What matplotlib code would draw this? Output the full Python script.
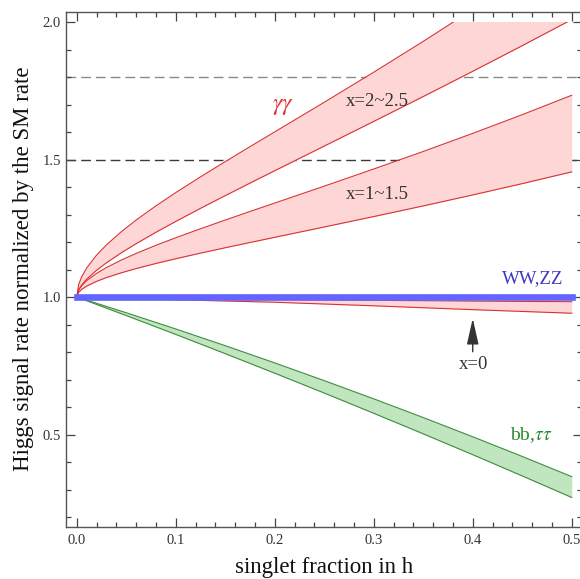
import numpy as np
import matplotlib.pyplot as plt
from matplotlib.patches import Rectangle
from matplotlib.ticker import MultipleLocator, FormatStrFormatter

plt.rcParams['font.family'] = ['Liberation Serif', 'DejaVu Serif']
plt.rcParams['mathtext.fontset'] = 'stix'

# ---- data ----
frac = [0, 0.002, 0.005, 0.01, 0.02, 0.03, 0.045, 0.06, 0.08, 0.1, 0.125, 0.15,
        0.175, 0.2, 0.25, 0.3, 0.35, 0.4, 0.45, 0.5]

# gamma gamma, x = 2 ~ 2.5
gg_x2_hi = [1.0, 1.0457, 1.0732, 1.1051, 1.1520, 1.1894, 1.2373, 1.2797, 1.3314, 1.3795,
            1.4368, 1.4922, 1.5466, 1.6004, 1.7081, 1.8174, 1.9295, 2.0453, 2.1651, 2.2896]
gg_x2_lo = [1.0, 1.0265, 1.0436, 1.0646, 1.0970, 1.1243, 1.1606, 1.1938, 1.2353, 1.2747,
            1.3223, 1.3686, 1.4141, 1.4592, 1.5488, 1.6385, 1.7289, 1.8207, 1.9139, 2.0089]
# gamma gamma, x = 1 ~ 1.5
gg_x1_hi = [1.0, 1.0257, 1.0412, 1.0592, 1.0857, 1.1070, 1.1342, 1.1584, 1.1879, 1.2154,
            1.2481, 1.2798, 1.3109, 1.3416, 1.4031, 1.4654, 1.5292, 1.5950, 1.6630, 1.7335]
gg_x1_lo = [1.0, 1.0173, 1.0276, 1.0395, 1.0568, 1.0706, 1.0880, 1.1034, 1.1219, 1.1391,
            1.1595, 1.1791, 1.1982, 1.2170, 1.2546, 1.2925, 1.3312, 1.3711, 1.4123, 1.4550]
# gamma gamma, x = 0
x0_frac = [0, 0.1, 0.2, 0.3, 0.4, 0.5]
gg_x0_hi = [1.0, 0.995, 0.991, 0.988, 0.985, 0.983]
gg_x0_lo = [1.0, 0.990, 0.981, 0.968, 0.954, 0.941]
# bb, tautau
bb_frac = [0, 0.05, 0.1, 0.15, 0.2, 0.25, 0.3, 0.35, 0.4, 0.45, 0.5]
bb_hi = [1.0, 0.9428, 0.8838, 0.8230, 0.7604, 0.6959, 0.6297, 0.5617, 0.4918, 0.4202, 0.3468]
bb_lo = [1.0, 0.9326, 0.8640, 0.7941, 0.7230, 0.6508, 0.5772, 0.5025, 0.4266, 0.3494, 0.2710]
# WW, ZZ
ww_frac = [0, 0.5]
ww_val = [1.0, 1.0]

ref_levels = [1.8, 1.5]
ref_colors = ['#8a8a8a', '#3a3a3a']

# ---- colours ----
RED = '#d83232'
PINK = '#ffd6d6'
GREEN = '#3c8c3c'
LGREEN = '#c0e6c0'
BLUE = '#6464ff'

fig = plt.figure(figsize=(5.8, 5.79), dpi=100)
ax = fig.add_axes([0.1133, 0.0903, 0.8902, 0.8895])
ax.set_xlim(-0.0111, 0.5104)
ax.set_ylim(0.1647, 2.0375)

# plot range clip (nothing drawn above 2.0)
clip = Rectangle((-1, -1), 3, 3.0, transform=ax.transData)

for y, c in zip(ref_levels, ref_colors):
    ax.axhline(y, color=c, lw=1.0, dashes=(7, 3.6), zorder=1)

arts = []
for lo, hi in [(gg_x2_lo, gg_x2_hi), (gg_x1_lo, gg_x1_hi)]:
    arts.append(ax.fill_between(frac, lo, hi, color=PINK, lw=0, zorder=2))
    arts += ax.plot(frac, hi, color=RED, lw=0.8, zorder=2.5)
    arts += ax.plot(frac, lo, color=RED, lw=0.8, zorder=2.5)
arts.append(ax.fill_between(x0_frac, gg_x0_lo, gg_x0_hi, color=PINK, lw=0, zorder=2))
arts += ax.plot(x0_frac, gg_x0_hi, color=RED, lw=0.8, zorder=2.5)
arts += ax.plot(x0_frac, gg_x0_lo, color=RED, lw=0.8, zorder=2.5)

arts.append(ax.fill_between(bb_frac, bb_lo, bb_hi, color=LGREEN, lw=0, zorder=2))
arts += ax.plot(bb_frac, bb_hi, color=GREEN, lw=0.8, zorder=2.5)
arts += ax.plot(bb_frac, bb_lo, color=GREEN, lw=0.8, zorder=2.5)
for a in arts:
    a.set_clip_path(clip)

ax.plot(ww_frac, ww_val, color=BLUE, lw=4.8, solid_capstyle='projecting', zorder=3)

# labels in the plot
ax.text(0.2087, 1.692, r'$\gamma\gamma$', color='#dd3333', fontsize=17, ha='center', va='center')
ax.text(0.3036, 1.710, 'x=2~2.5', color='#333333', fontsize=13.5, ha='center', va='center')
ax.text(0.3036, 1.371, 'x=1~1.5', color='#333333', fontsize=13.5, ha='center', va='center')
ax.text(0.4602, 1.068, 'WW,ZZ', color='#3a3ac0', fontsize=13.5, ha='center', va='center')
ax.text(0.4596, 0.498, r'bb,$\tau\tau$', color='#2a8a2a', fontsize=14, ha='center', va='center')
ax.text(0.4006, 0.756, 'x=0', color='#333333', fontsize=13.5, ha='center', va='center')
ax.annotate('', xy=(0.4, 0.922), xytext=(0.4, 0.801),
            arrowprops=dict(arrowstyle='-|>,head_length=1.6,head_width=0.36',
                            mutation_scale=10, color='#333333', lw=1.0, shrinkA=0, shrinkB=0))

# frame and ticks
for s in ax.spines.values():
    s.set_color('#555555')
    s.set_linewidth(1.0)
ax.xaxis.set_major_locator(MultipleLocator(0.1))
ax.xaxis.set_minor_locator(MultipleLocator(0.02))
ax.yaxis.set_major_locator(MultipleLocator(0.5))
ax.yaxis.set_minor_locator(MultipleLocator(0.1))
ax.xaxis.set_major_formatter(FormatStrFormatter('%.1f'))
ax.yaxis.set_major_formatter(FormatStrFormatter('%.1f'))
ax.tick_params(which='both', direction='in', top=True, right=True, color='#444444', width=0.9)
ax.tick_params(which='major', length=6.5)
ax.tick_params(which='minor', length=3.5)
ax.tick_params(axis='x', which='major', labelsize=10.5, pad=5, labelcolor='#333333')
ax.tick_params(axis='y', which='major', labelsize=10.5, pad=3.5, labelcolor='#333333')

ax.set_xlabel('singlet fraction in h', fontsize=16.5, color='#111111')
ax.set_ylabel('Higgs signal rate normalized by the SM rate', fontsize=16.5, color='#111111')
ax.xaxis.set_label_coords(0.5, -0.058)
ax.yaxis.set_label_coords(-0.062, 0.5)

fig.savefig('out.png', dpi=100)
